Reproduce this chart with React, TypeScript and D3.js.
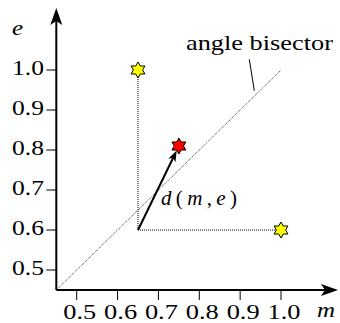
import React from "react";
import * as d3 from "d3";

const xTicks = [0.5, 0.6, 0.7, 0.8, 0.9, 1.0];
const yTicks = [0.5, 0.6, 0.7, 0.8, 0.9, 1.0];
const origin = { m: 0.65, e: 0.6 };
const yellowStars = [
  { m: 0.65, e: 1.0 },
  { m: 1.0, e: 0.6 },
];
const redStar = { m: 0.75, e: 0.81 };
const bisector = [0.45, 1.0];

const W = 340;
const H = 323;
const FONT = '"Liberation Serif", "Times New Roman", Times, serif';

function hexagram(cx: number, cy: number, R: number) {
  const r = R / Math.sqrt(3);
  const pts: [number, number][] = [];
  for (let i = 0; i < 12; i++) {
    const a = -Math.PI / 2 + (i * Math.PI) / 6;
    const rad = i % 2 === 0 ? R : r;
    pts.push([cx + rad * Math.cos(a), cy + rad * Math.sin(a)]);
  }
  return d3.line()(pts.concat([pts[0]])) + "Z";
}

export default function App() {
  const x = d3.scaleLinear().domain([0.45, 1.0]).range([56.3, 281]);
  const y = d3.scaleLinear().domain([0.45, 1.0]).range([290, 70]);
  const axX = x(0.45);
  const axY = y(0.45);
  const xEnd = 338;
  const yTop = 8;

  const ox = x(origin.m);
  const oy = y(origin.e);
  const rx = x(redStar.m);
  const ry = y(redStar.e);
  const dx = rx - ox;
  const dy = ry - oy;
  const len = Math.sqrt(dx * dx + dy * dy);
  const ux = dx / len;
  const uy = dy / len;
  const tipX = rx - ux * 5;
  const tipY = ry - uy * 5;
  const headLen = 11;
  const headW = 4;
  const baseX = tipX - ux * headLen;
  const baseY = tipY - uy * headLen;
  const notchX = tipX - ux * (headLen - 3);
  const notchY = tipY - uy * (headLen - 3);
  const px = -uy;
  const py = ux;
  const head = `M${tipX},${tipY} L${baseX + px * headW},${baseY + py * headW} L${notchX},${notchY} L${baseX - px * headW},${baseY - py * headW} Z`;

  const fs = 21;

  return (
    <svg width={W} height={H} style={{ position: "absolute", left: 0, top: 0, background: "#fff" }}>
      <line
        x1={x(bisector[0])}
        y1={y(bisector[0])}
        x2={x(bisector[1])}
        y2={y(bisector[1])}
        stroke="#000"
        strokeWidth={0.8}
        strokeDasharray="1 1"
      />
      <line x1={ox} y1={oy} x2={x(yellowStars[0].m)} y2={y(yellowStars[0].e)} stroke="#000" strokeWidth={1} strokeDasharray="1 1" />
      <line x1={ox} y1={oy} x2={x(yellowStars[1].m)} y2={y(yellowStars[1].e)} stroke="#000" strokeWidth={1} strokeDasharray="1 1" />

      <line x1={ox} y1={oy} x2={notchX} y2={notchY} stroke="#000" strokeWidth={2} />
      <path d={head} fill="#000" />

      {yellowStars.map((s, i) => (
        <path key={i} d={hexagram(x(s.m), y(s.e), 8)} fill="#ffff00" stroke="#000" strokeWidth={1} />
      ))}
      <path d={hexagram(rx, ry, 8)} fill="#ff0000" stroke="#000" strokeWidth={1} />

      <line x1={axX} y1={axY} x2={xEnd - 6} y2={axY} stroke="#000" strokeWidth={2} />
      <line x1={axX} y1={axY} x2={axX} y2={yTop + 6} stroke="#000" strokeWidth={2} />
      <path d={`M${xEnd},${axY} L${xEnd - 17},${axY - 6} L${xEnd - 13},${axY} L${xEnd - 17},${axY + 6} Z`} fill="#000" />
      <path d={`M${axX},${yTop} L${axX - 6},${yTop + 17} L${axX},${yTop + 13} L${axX + 6},${yTop + 17} Z`} fill="#000" />

      {xTicks.map((t) => (
        <g key={"x" + t}>
          <line x1={x(t)} y1={axY} x2={x(t)} y2={axY + 10} stroke="#000" strokeWidth={1} />
          <text
            x={x(t) - 13.5}
            y={axY + 29}
            fontFamily={FONT}
            fontSize={fs}
            textLength={33}
            lengthAdjust="spacingAndGlyphs"
          >
            {t.toFixed(1)}
          </text>
        </g>
      ))}
      {yTicks.map((t) => (
        <g key={"y" + t}>
          <line x1={axX - 10} y1={y(t)} x2={axX} y2={y(t)} stroke="#000" strokeWidth={1} />
          <text
            x={12}
            y={y(t) + 5}
            fontFamily={FONT}
            fontSize={fs}
            textLength={32}
            lengthAdjust="spacingAndGlyphs"
          >
            {t.toFixed(1)}
          </text>
        </g>
      ))}

      <text x={12} y={35} fontFamily={FONT} fontStyle="italic" fontSize={fs} textLength={11} lengthAdjust="spacingAndGlyphs">
        e
      </text>
      <text x={317} y={317} fontFamily={FONT} fontStyle="italic" fontSize={20} textLength={18} lengthAdjust="spacingAndGlyphs">
        m
      </text>

      <text x={186} y={50} fontFamily={FONT} fontSize={22} textLength={147} lengthAdjust="spacingAndGlyphs">
        angle bisector
      </text>
      <line x1={249.3} y1={59.3} x2={254.3} y2={90.7} stroke="#000" strokeWidth={1} />

      <text x={161} y={205} fontFamily={FONT} fontSize={fs} textLength={76} lengthAdjust="spacing">
        <tspan fontStyle="italic">d</tspan>
        <tspan>(</tspan>
        <tspan fontStyle="italic">m</tspan>
        <tspan>,</tspan>
        <tspan fontStyle="italic">e</tspan>
        <tspan>)</tspan>
      </text>
    </svg>
  );
}
